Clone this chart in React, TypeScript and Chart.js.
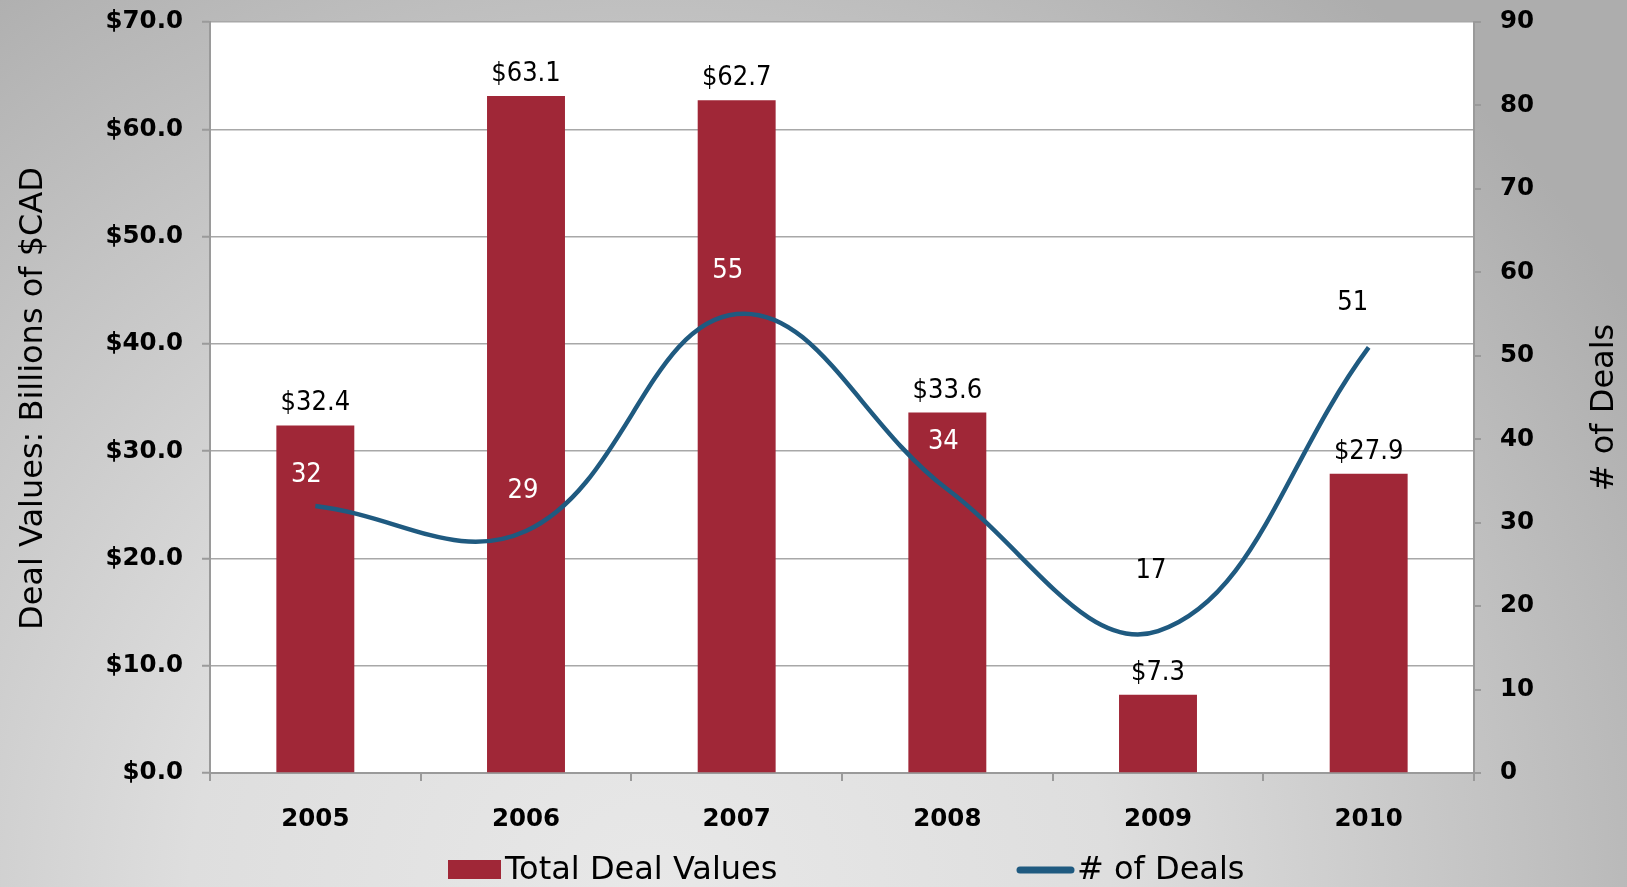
import React, { useEffect, useRef } from 'react';
import { Chart, registerables } from 'chart.js';

Chart.register(...registerables);

// ---- data ----
const YEARS = ['2005', '2006', '2007', '2008', '2009', '2010'];
const DEAL_VALUES = [32.4, 63.1, 62.7, 33.6, 7.3, 27.9];
const DEAL_COUNTS = [32, 29, 55, 34, 17, 51];
const SERIES_NAMES = ['Total Deal Values', '# of Deals'];
const AXIS_TITLES = ['Deal Values: Billions of $CAD', '# of Deals'];
const VALUE_RANGE = [0, 70, 10];
const COUNT_RANGE = [0, 90, 10];

// layout nudges for the count labels (px), as they sit in the original
const COUNT_LABEL_DX = [-9, -3, -9, -4, -7, -16];
const COUNT_LABEL_DY = [-31, -40, -43, -47, -60, -44];

const BAR_COLOR = '#A02737';
const LINE_COLOR = '#1F5A80';
const AXIS_GRAY = '#9a9a9a';
const GRID_GRAY = '#a8a8a8';
const BOLD = 'DejaVu Sans';
const LABEL_FONT = '"DejaVu Sans Condensed", "Liberation Sans", sans-serif';

const decor = {
  id: 'decor',
  beforeDraw(chart: any) {
    const { ctx, width, height, chartArea: a } = chart;
    ctx.save();
    const g = ctx.createRadialGradient(650, 900, 0, 650, 900, 1150);
    g.addColorStop(0, '#e8e8e8');
    g.addColorStop(0.4, '#dedede');
    g.addColorStop(0.75, '#c2c2c2');
    g.addColorStop(1, '#adadad');
    ctx.fillStyle = g;
    ctx.fillRect(0, 0, width, height);
    ctx.fillStyle = '#ffffff';
    ctx.fillRect(a.left, a.top, a.right - a.left, a.bottom - a.top);
    ctx.restore();
  },
  afterDraw(chart: any) {
    const { ctx, chartArea: a } = chart;
    const barMeta = chart.getDatasetMeta(0);
    const lineMeta = chart.getDatasetMeta(1);
    ctx.save();
    // bar value labels
    ctx.font = `27px ${LABEL_FONT}`;
    ctx.textAlign = 'center';
    ctx.textBaseline = 'alphabetic';
    ctx.fillStyle = '#000';
    barMeta.data.forEach((el: any, i: number) => {
      ctx.fillText('$' + DEAL_VALUES[i].toFixed(1), el.x, el.y - 15);
    });
    // count labels
    ctx.textBaseline = 'middle';
    lineMeta.data.forEach((el: any, i: number) => {
      const cx = el.x + COUNT_LABEL_DX[i];
      const cy = el.y + COUNT_LABEL_DY[i];
      const bar = barMeta.data[i];
      const inside = Math.abs(cx - bar.x) < bar.width / 2 && cy > bar.y;
      ctx.fillStyle = inside ? '#ffffff' : '#000000';
      ctx.fillText(String(DEAL_COUNTS[i]), cx, cy);
    });
    // axis titles
    ctx.fillStyle = '#000';
    ctx.textAlign = 'center';
    ctx.textBaseline = 'middle';
    ctx.font = `32px ${BOLD}`;
    const midY = (a.top + a.bottom) / 2;
    ctx.save();
    ctx.translate(34, midY + 1);
    ctx.rotate(-Math.PI / 2);
    ctx.fillText(AXIS_TITLES[0], 0, 0);
    ctx.restore();
    ctx.save();
    ctx.translate(a.right + 131, midY + 10);
    ctx.rotate(-Math.PI / 2);
    ctx.fillText(AXIS_TITLES[1], 0, 0);
    ctx.restore();
    // legend
    const cx = (a.left + a.right) / 2;
    const base = 879;
    ctx.font = `32px ${BOLD}`;
    ctx.textAlign = 'left';
    ctx.textBaseline = 'alphabetic';
    ctx.fillStyle = BAR_COLOR;
    ctx.fillRect(cx - 394, 860, 53, 19);
    ctx.fillStyle = '#000';
    ctx.fillText(SERIES_NAMES[0], cx - 337, base);
    ctx.strokeStyle = LINE_COLOR;
    ctx.lineWidth = 7;
    ctx.lineCap = 'round';
    ctx.beginPath();
    ctx.moveTo(cx + 178, 870);
    ctx.lineTo(cx + 229, 870);
    ctx.stroke();
    ctx.fillText(SERIES_NAMES[1], cx + 235, base);
    ctx.restore();
  },
};

function fixVertical(width: number) {
  return (s: any) => {
    s.width = width;
    s.paddingTop = 10;
    s.paddingBottom = 10;
  };
}

export default function App() {
  const ref = useRef<HTMLCanvasElement | null>(null);
  useEffect(() => {
    if (!ref.current) return;
    const tickFont = { family: BOLD, weight: 'bold' as const, size: 24.5 };
    const chart = new Chart(ref.current, {
      type: 'bar',
      data: {
        labels: YEARS,
        datasets: [
          {
            type: 'bar',
            label: SERIES_NAMES[0],
            data: DEAL_VALUES,
            backgroundColor: BAR_COLOR,
            barPercentage: 0.37,
            categoryPercentage: 1,
            yAxisID: 'y',
            order: 1,
          },
          {
            type: 'line',
            label: SERIES_NAMES[1],
            data: DEAL_COUNTS,
            borderColor: LINE_COLOR,
            borderWidth: 4.5,
            pointRadius: 0,
            tension: 0.4,
            fill: false,
            yAxisID: 'y1',
            order: 0,
          } as any,
        ],
      },
      options: {
        responsive: false,
        animation: false,
        devicePixelRatio: 1,
        layout: { padding: { top: 22, bottom: 0, left: 0, right: 0 } },
        plugins: { legend: { display: false }, tooltip: { enabled: false } },
        scales: {
          x: {
            offset: true,
            grid: { offset: true, drawOnChartArea: false, drawTicks: true, tickLength: 8, color: AXIS_GRAY, lineWidth: 2 },
            border: { display: true, color: AXIS_GRAY, width: 2 },
            ticks: { font: tickFont, color: '#000', padding: 24, maxRotation: 0 },
            afterFit(s: any) {
              s.height = 114;
              s.paddingLeft = 0;
              s.paddingRight = 0;
            },
          },
          y: {
            position: 'left',
            min: VALUE_RANGE[0],
            max: VALUE_RANGE[1],
            ticks: {
              stepSize: VALUE_RANGE[2],
              font: tickFont,
              color: '#000',
              padding: 19,
              callback: (v: any) => '$' + Number(v).toFixed(1),
            },
            grid: { color: GRID_GRAY, lineWidth: 1.5, tickLength: 8, tickColor: AXIS_GRAY, tickWidth: 2 },
            border: { display: true, color: AXIS_GRAY, width: 2 },
            afterFit: fixVertical(210),
          },
          y1: {
            position: 'right',
            min: COUNT_RANGE[0],
            max: COUNT_RANGE[1],
            ticks: { stepSize: COUNT_RANGE[2], font: tickFont, color: '#000', padding: 19 },
            grid: { drawOnChartArea: false, tickLength: 7, color: AXIS_GRAY, lineWidth: 2 },
            border: { display: true, color: AXIS_GRAY, width: 2 },
            afterFit: fixVertical(153),
          },
        },
      },
      plugins: [decor],
    } as any);
    return () => chart.destroy();
  }, []);
  return (
    <div style={{ position: 'absolute', left: 0, top: 0, width: 1627, height: 887 }}>
      <canvas ref={ref} width={1627} height={887} style={{ display: 'block', width: 1627, height: 887 }} />
    </div>
  );
}
